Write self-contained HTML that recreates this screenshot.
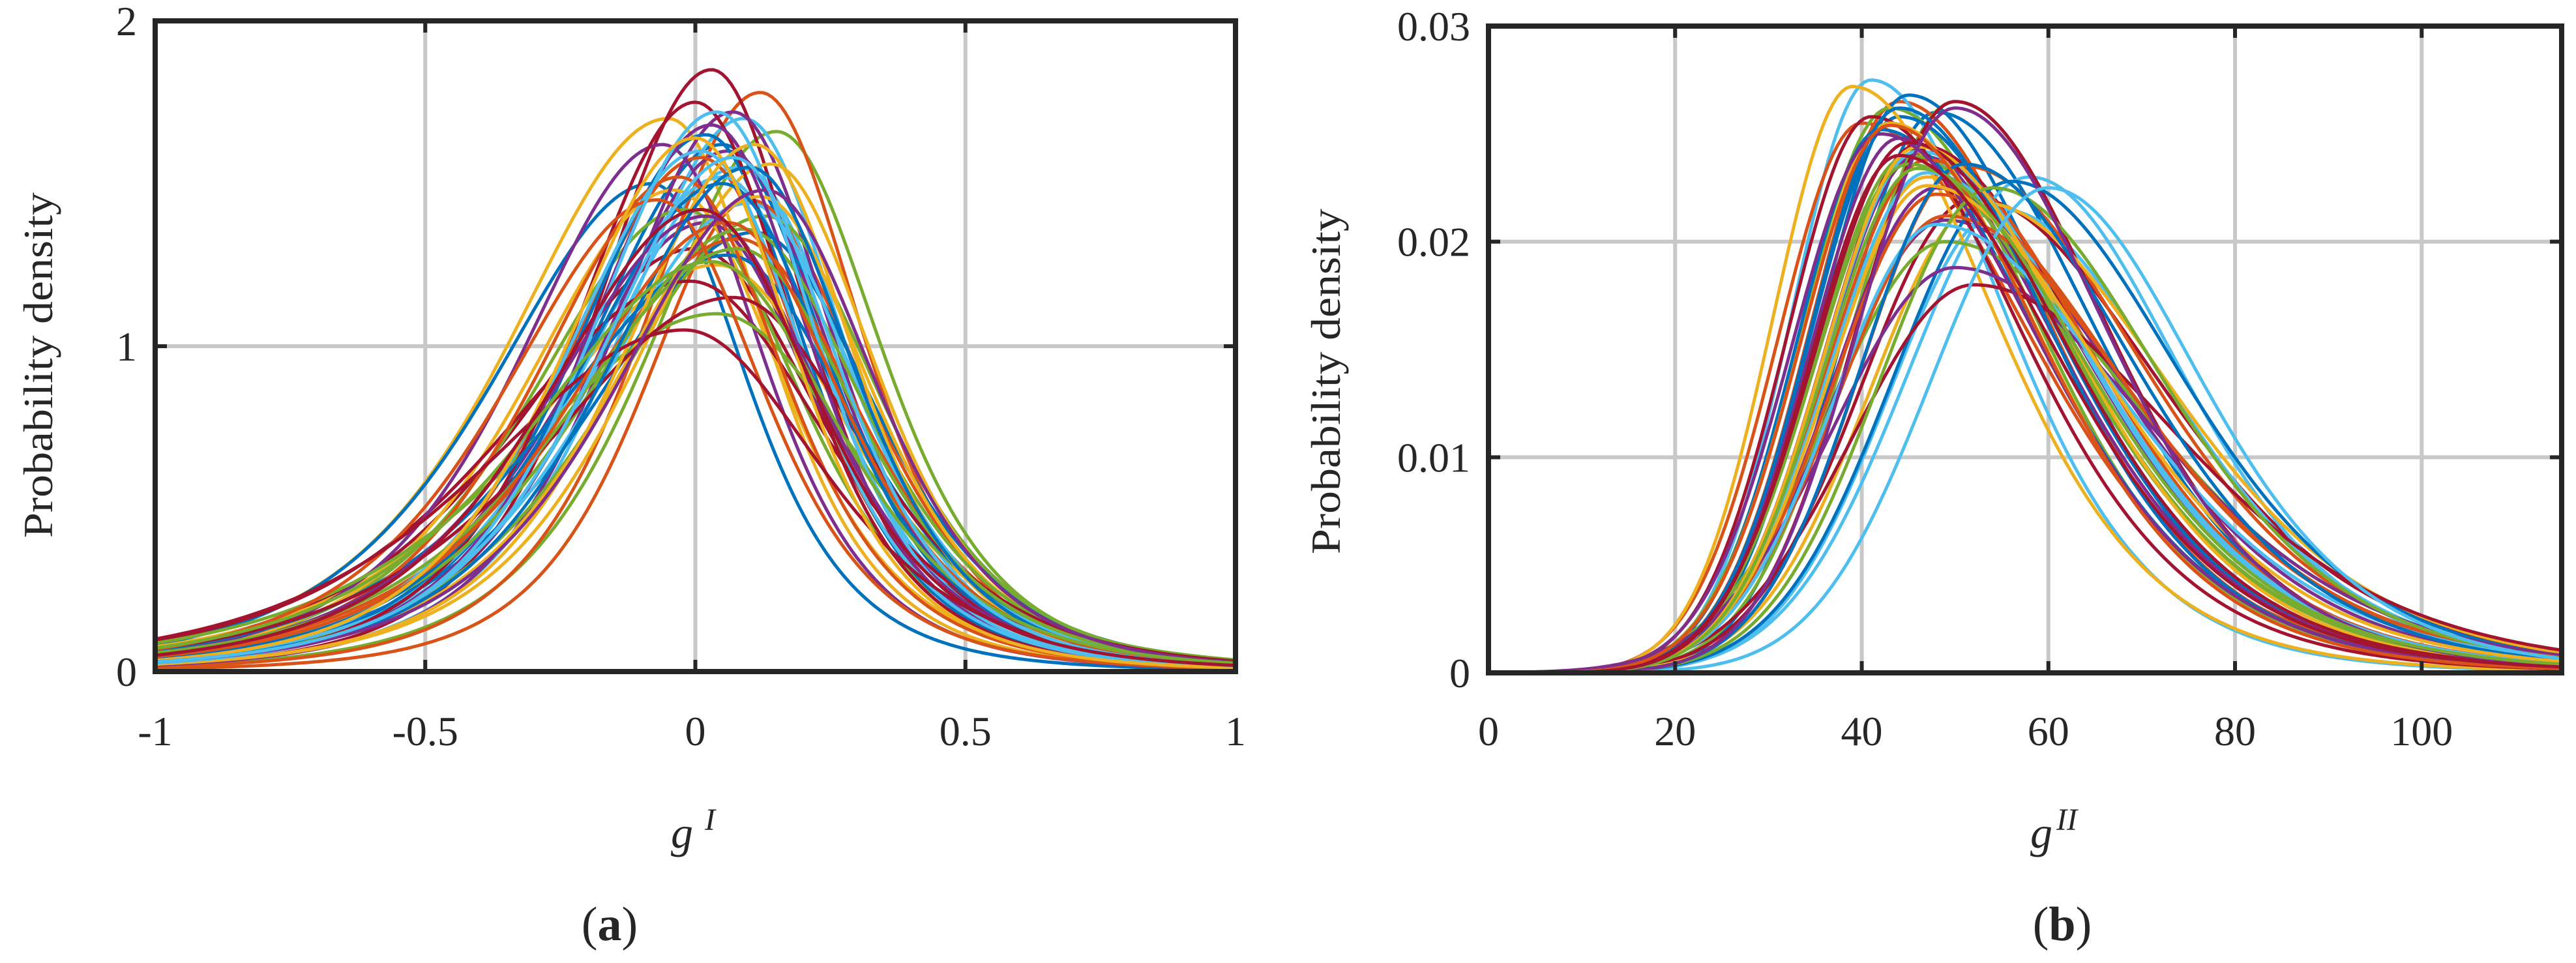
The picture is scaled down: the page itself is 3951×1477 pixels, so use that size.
<!DOCTYPE html>
<html><head><meta charset="utf-8"><style>
html,body{margin:0;padding:0;background:#fff}
svg{display:block}
text{font-family:"Liberation Serif",serif;fill:#262626}
</style></head><body>
<svg id="fig" width="3951" height="1477" viewBox="0 0 3951 1477">
<g id="pa"></g>
<g id="pb"></g>
<text x="1063" y="1300" font-size="68" font-style="italic" text-anchor="middle">g<tspan font-size="48" dy="-27" dx="18">I</tspan></text>
<text x="3150" y="1300" font-size="68" font-style="italic" text-anchor="middle">g<tspan font-size="48" dy="-27" dx="6">II</tspan></text>
<text x="935" y="1442" font-size="74" text-anchor="middle">(<tspan font-weight="bold">a</tspan>)</text>
<text x="3163" y="1442" font-size="74" text-anchor="middle">(<tspan font-weight="bold">b</tspan>)</text>
</svg>
<script>
const colors=["#0072BD","#D95319","#EDB120","#7E2F8E","#77AC30","#4DBEEE","#A2142F"];
// Panel a curve parameters (peak location, peak height, left/right widths)
const aPeak=[0.05,0.10,-0.05,0.02,0.15,0.08,0.00,-0.08,0.12,0.04,0.06,-0.02,0.09,0.03,0.11,0.01,-0.04,0.07,0.13,0.05,-0.01,0.02,0.08,0.14,-0.06,0.04,0.10,0.00,0.06,-0.03,0.12,0.03,0.09,0.01,0.07,0.05,-0.07,0.11,0.02,0.08,0.04,-0.02,0.10,0.06,0.00,0.13,0.03,0.07,0.01];
const aHeight=[1.62,1.45,1.70,1.38,1.66,1.55,1.30,1.50,1.78,1.25,1.60,1.42,1.70,1.85,1.35,1.58,1.48,1.72,1.40,1.52,1.20,1.65,1.33,1.56,1.62,1.10,1.44,1.75,1.28,1.52,1.46,1.68,1.36,1.60,1.15,1.50,1.45,1.62,1.40,1.30,1.72,1.05,1.55,1.38,1.64,1.48,1.26,1.58,1.42];
const aLeft=[0.26,0.20,0.30,0.28,0.24,0.27,0.33,0.30,0.22,0.35,0.25,0.29,0.24,0.22,0.31,0.26,0.28,0.23,0.30,0.27,0.36,0.25,0.32,0.26,0.27,0.38,0.29,0.23,0.34,0.27,0.28,0.24,0.31,0.26,0.36,0.28,0.29,0.25,0.30,0.33,0.24,0.38,0.27,0.30,0.25,0.28,0.34,0.26,0.29];
const aRight=[0.20,0.22,0.19,0.21,0.20,0.21,0.24,0.18,0.19,0.25,0.20,0.22,0.19,0.18,0.23,0.20,0.21,0.19,0.22,0.20,0.26,0.19,0.23,0.20,0.19,0.27,0.21,0.19,0.24,0.20,0.21,0.19,0.23,0.20,0.25,0.21,0.20,0.19,0.22,0.23,0.19,0.26,0.20,0.22,0.19,0.21,0.24,0.20,0.22];
const aXTicks=[-1,-0.5,0,0.5,1], aXLabels=["-1","-0.5","0","0.5","1"];
const aYTicks=[0,1,2], aYLabels=["0","1","2"];
// Panel b
const bPeak=[48,44,42,46,50,41,52,45,40,47,49,43,55,46,44,51,39,48,45,58,50,42,47,53,44,49,46,41,56,48,43,50,45,47,52,44,49,46,42,54,48,45,51,43,47,50,46,60,44];
const bHeight=[0.026,0.0265,0.025,0.024,0.0265,0.0275,0.022,0.0268,0.0255,0.023,0.021,0.0262,0.0215,0.0245,0.0258,0.0235,0.0272,0.0225,0.024,0.023,0.0265,0.0252,0.0238,0.0218,0.0248,0.02,0.0242,0.0258,0.0228,0.0222,0.0255,0.0188,0.0236,0.0232,0.018,0.0262,0.0212,0.0244,0.025,0.0225,0.0208,0.0246,0.0236,0.0254,0.0226,0.0262,0.0234,0.0225,0.024];
const bLeft=[10,9.5,9,10,11,8.5,12,9.5,9,10.5,12,9.5,12,10,9.5,11,8.5,11,10,13,10.5,9,10.5,12,9.5,12.5,10,9,12.5,11,9.5,13,10,10.5,13,9.5,11.5,10,9.5,12,11,10,11,9.5,10.5,10.5,10,12.5,9.5];
const bRight=[18,17,18,19,17,15,21,17,19,19,21,17,19,19,18,20,16,20,19,17,17,18,19,21,18,22,19,17,19,21,17,22,19,19,23,17,21,18,18,19,21,18,19,17,20,17,19,17,18];
const bXTicks=[0,20,40,60,80,100], bXLabels=["0","20","40","60","80","100"];
const bYTicks=[0,0.01,0.02,0.03], bYLabels=["0","0.01","0.02","0.03"];

const NS="http://www.w3.org/2000/svg";
function mk(parent,tag,attrs){const e=document.createElementNS(NS,tag);for(const k in attrs)e.setAttribute(k,attrs[k]);parent.appendChild(e);return e;}

function panel(g,box,xr,yr,xt,xl,yt,yl,peaks,hts,sl,sr,shape,ylabX,ylabY,key){
  const sx=v=>box.x0+(v-xr[0])/(xr[1]-xr[0])*(box.x1-box.x0);
  const sy=v=>box.y1-(v-yr[0])/(yr[1]-yr[0])*(box.y1-box.y0);
  xt.forEach((t,i)=>{
    if(t>xr[0]&&t<xr[1]){const l=mk(g,'line',{x1:sx(t),x2:sx(t),y1:box.y0,y2:box.y1,stroke:'#c8c8c8','stroke-width':6});
    
    }
    const tx=mk(g,'text',{x:sx(t),y:1143,'font-size':64,'text-anchor':'middle'});tx.textContent=xl[i];
    
    
  });
  yt.forEach((t,i)=>{
    if(t>yr[0]&&t<yr[1]){const l=mk(g,'line',{x1:box.x0,x2:box.x1,y1:sy(t),y2:sy(t),stroke:'#c8c8c8','stroke-width':6});
    
    }
    const tx=mk(g,'text',{x:box.x0-28,y:sy(t)+22,'font-size':64,'text-anchor':'end'});tx.textContent=yl[i];
    
    
  });
  peaks.forEach((m,i)=>{
    let d='';
    for(let k=0;k<=240;k++){
      const x=xr[0]+(xr[1]-xr[0])*k/240;
      const v=shape(x,m,hts[i],sl[i],sr[i]);
      d+=(k?'L':'M')+sx(x).toFixed(1)+' '+sy(v).toFixed(1);
    }
    const p=mk(g,'path',{d:d,fill:'none',stroke:colors[i%7],'stroke-width':5,'stroke-linejoin':'round'});
    
    
  });
  const fr=mk(g,'rect',{x:box.x0,y:box.y0,width:box.x1-box.x0,height:box.y1-box.y0,fill:'none',stroke:'#262626','stroke-width':8});
  
  
  xt.forEach(t=>{if(t>xr[0]&&t<xr[1]){mk(g,'line',{x1:sx(t),x2:sx(t),y1:box.y1,y2:box.y1-18,stroke:'#262626','stroke-width':6});mk(g,'line',{x1:sx(t),x2:sx(t),y1:box.y0,y2:box.y0+18,stroke:'#262626','stroke-width':6});}});
  yt.forEach(t=>{if(t>yr[0]&&t<yr[1]){mk(g,'line',{x1:box.x0,x2:box.x0+18,y1:sy(t),y2:sy(t),stroke:'#262626','stroke-width':6});mk(g,'line',{x1:box.x1,x2:box.x1-18,y1:sy(t),y2:sy(t),stroke:'#262626','stroke-width':6});}});
  const yl2=mk(g,'text',{x:0,y:0,'font-size':64,'text-anchor':'middle',transform:`translate(${ylabX},${ylabY}) rotate(-90)`,textLength:530,lengthAdjust:'spacingAndGlyphs'});
  yl2.textContent='Probability density';
  
  
}
const shapeA=(x,m,h,sl,sr)=>{const z=(x-m)/(x<m?sl:sr);return h*Math.pow(1+z*z/4,-2.4);};
const shapeB=(x,m,h,sl,sr)=>{if(x<m){const z=(x-m)/sl;return h*Math.exp(-0.5*z*z);}const z=(x-m)/sr;return h*Math.pow(1+z*z/6,-3.5);};
panel(document.getElementById('pa'),{x0:238,x1:1895,y0:32,y1:1030},[-1,1],[0,2],aXTicks,aXLabels,aYTicks,aYLabels,aPeak,aHeight,aLeft,aRight,shapeA,80,560,'a');
panel(document.getElementById('pb'),{x0:2283,x1:3929,y0:40,y1:1032},[0,115],[0,0.03],bXTicks,bXLabels,bYTicks,bYLabels,bPeak,bHeight,bLeft,bRight,shapeB,2055,585,'b');
</script>
</body></html>
